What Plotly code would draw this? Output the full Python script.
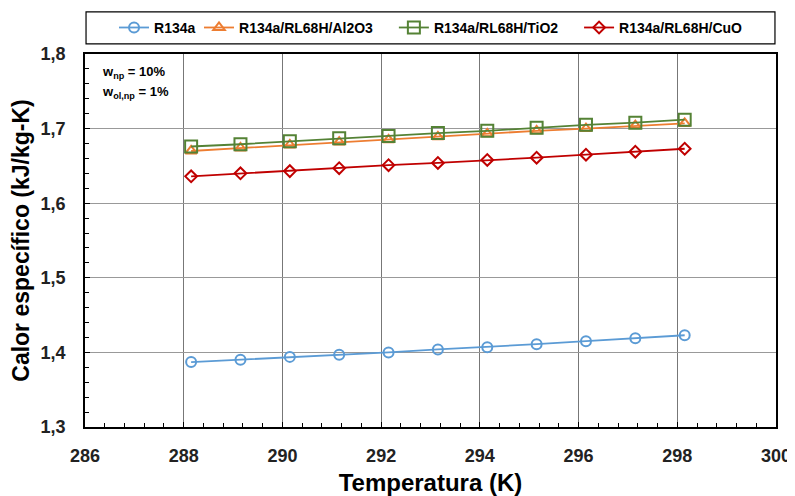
import plotly.graph_objects as go

temps = [288.15, 289.15, 290.15, 291.15, 292.15, 293.15, 294.15, 295.15, 296.15, 297.15, 298.15]
r134a = [1.387, 1.390, 1.394, 1.397, 1.400, 1.404, 1.407, 1.411, 1.415, 1.419, 1.423]
al2o3 = [1.670, 1.674, 1.678, 1.682, 1.685, 1.689, 1.693, 1.697, 1.700, 1.704, 1.707]
tio2 = [1.676, 1.679, 1.683, 1.687, 1.690, 1.694, 1.697, 1.701, 1.705, 1.708, 1.712]
cuo = [1.636, 1.640, 1.643, 1.647, 1.651, 1.654, 1.658, 1.661, 1.665, 1.669, 1.673]

series = [
    ("R134a", r134a, "#5b9bd5", "circle-open", 10),
    ("R134a/RL68H/Al2O3", al2o3, "#ed7d31", "triangle-up-open", 10),
    ("R134a/RL68H/TiO2", tio2, "#548235", "square-open", 12),
    ("R134a/RL68H/CuO", cuo, "#c00000", "diamond-open", 9),
]
legend_x = [0.042, 0.165, 0.447, 0.715]
legend_names = ["legend", "legend2", "legend3", "legend4"]

FONT = "Liberation Sans, Arial, sans-serif"
fig = go.Figure()
for (name, ys, col, sym, sz), lg in zip(series, legend_names):
    fig.add_trace(go.Scatter(
        x=temps, y=ys, name=name, mode="lines+markers",
        line=dict(color=col, width=1.8),
        marker=dict(symbol=sym, size=sz, color=col, line=dict(color=col, width=2)),
        legend=lg,
    ))

# the page body adds an 8px offset, so the figure is 8px smaller than the window
fig.update_layout(
    width=787, height=488,
    margin=dict(l=77, r=19, t=46, b=69, autoexpand=False),
    paper_bgcolor="white", plot_bgcolor="white",
    separators=",.",
    font=dict(family=FONT, color="black"),
    showlegend=True,
)
for lg, lx in zip(legend_names, legend_x):
    fig.update_layout({lg: dict(
        orientation="h", x=lx, xanchor="left", y=1.07, yanchor="middle",
        font=dict(family=FONT, size=14, color="black", weight="bold"),
        bgcolor="rgba(0,0,0,0)", borderwidth=0, itemwidth=30,
    )})

fig.add_shape(type="rect", xref="paper", yref="paper", x0=0.0015, x1=0.9985,
              y0=1.027, y1=1.113, line=dict(color="black", width=1.2), fillcolor="rgba(0,0,0,0)")

fig.update_xaxes(
    range=[286, 300], dtick=2, tick0=286,
    showgrid=True, gridcolor="#777", gridwidth=1,
    showline=True, linecolor="black", linewidth=1.5, mirror=True,
    ticks="inside", ticklen=5, tickcolor="black",
    minor=dict(dtick=0.4, ticks="inside", ticklen=4, tickcolor="black", showgrid=False),
    tickfont=dict(family=FONT, size=18, color="#222", weight="bold"),
    ticklabelstandoff=12,
    title=dict(text="Temperatura (K)", font=dict(family=FONT, size=24, color="black", weight="bold"), standoff=9),
    zeroline=False,
)
fig.update_yaxes(
    range=[1.3, 1.8], dtick=0.1, tick0=1.3, tickformat=".1f",
    showgrid=True, gridcolor="#999", gridwidth=1,
    showline=True, linecolor="black", linewidth=1.5, mirror=True,
    ticks="inside", ticklen=5, tickcolor="black",
    minor=dict(dtick=0.02, ticks="inside", ticklen=4, tickcolor="black", showgrid=False),
    tickfont=dict(family=FONT, size=18, color="#222", weight="bold"),
    ticklabelstandoff=14,
    title=dict(text="Calor específico (kJ/kg-K)", font=dict(family=FONT, size=23, color="black", weight="bold"), standoff=6),
    zeroline=False,
)

fig.add_annotation(xref="paper", yref="paper", x=0.022, y=0.95, xanchor="left", yanchor="middle",
                   text="<b>w<sub>np</sub> = 10%</b>", showarrow=False,
                   font=dict(family=FONT, size=13, color="black"))
fig.add_annotation(xref="paper", yref="paper", x=0.022, y=0.897, xanchor="left", yanchor="middle",
                   text="<b>w<sub>ol,np</sub> = 1%</b>", showarrow=False,
                   font=dict(family=FONT, size=13, color="black"))

fig.write_html("out.html")
